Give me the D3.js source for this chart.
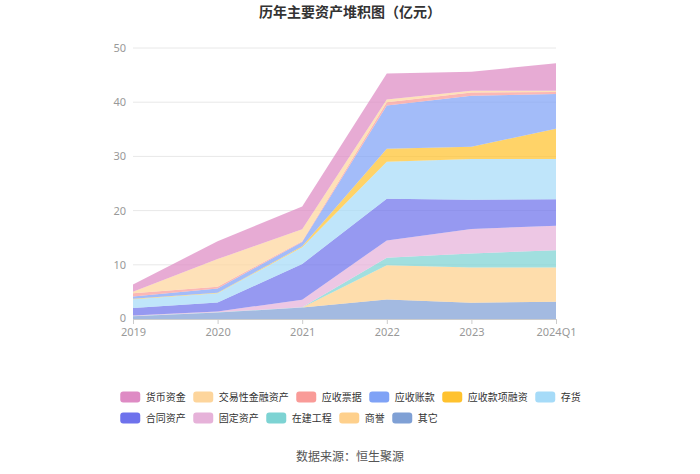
<!DOCTYPE html>
<html><head><meta charset="utf-8">
<script src="https://cdn.jsdelivr.net/npm/d3@7/dist/d3.min.js"></script>
<style>body{margin:0;background:#fff;}svg{display:block;font-family:"Noto Sans CJK SC","Noto Sans",sans-serif;}</style>
</head><body>
<svg id="c" width="700" height="474"></svg>
<script>
const years = ['2019','2020','2021','2022','2023','2024Q1'];
const seriesNames = ['货币资金','交易性金融资产','应收票据','应收账款','应收款项融资','存货','合同资产','固定资产','在建工程','商誉','其它'];
const cash        = [1.3, 3.3, 4.2, 4.8, 3.5, 5.1];
const tradingFin  = [0.3, 5.1, 2.2, 0.5, 0.3, 0.2];
const notesRec    = [0.6, 0.3, 0.15, 0.6, 0.6, 0.4];
const accountsRec = [0.4, 0.8, 0.8, 8.0, 9.4, 6.4];
const recFinancing= [0.1, 0.1, 0.15, 2.4, 2.3, 5.6];
const inventory   = [1.6, 1.7, 3.1, 6.8, 7.5, 7.4];
const contractAst = [1.4, 1.65, 6.6, 7.7, 5.4, 4.9];
const fixedAst    = [0.1, 0.15, 1.4, 3.2, 4.5, 4.5];
const construction= [0.05, 0.05, 0.05, 1.4, 2.6, 3.2];
const goodwill    = [0, 0, 0, 6.3, 6.5, 6.3];
const others      = [0.5, 1.2, 2.1, 3.6, 3.0, 3.2];
const yTicks = [0, 10, 20, 30, 40, 50];
const colors = ['#de8bc4','#fdd59c','#f99b98','#7fa2f6','#ffc22e','#a6dbf8','#6e72ec','#e6b2d9','#7dd3d3','#fed08c','#7fa0d5'];

const values = [cash,tradingFin,notesRec,accountsRec,recFinancing,inventory,contractAst,fixedAst,construction,goodwill,others];
const table = years.map((y,i)=>{const o={year:y}; seriesNames.forEach((n,k)=>o[n]=values[k][i]); return o;});

const svg = d3.select('#c');
const L=133,R=556,T=48,B=319;
const x = d3.scalePoint().domain(years).range([L,R]);
const y = d3.scaleLinear().domain([0,50]).range([B,T]);

// title
svg.append('text').attr('x',350).attr('y',17).attr('text-anchor','middle').attr('font-size',14).attr('font-weight','bold').attr('fill','#333').text('历年主要资产堆积图（亿元）');

// grid
svg.append('g').selectAll('line').data(yTicks.filter(d=>d>0)).join('line')
  .attr('x1',L).attr('x2',R).attr('y1',d=>y(d)).attr('y2',d=>y(d)).attr('stroke','#e8e8e8').attr('stroke-width',1);

// stack: bottom = last series
const stack = d3.stack().keys(seriesNames.slice().reverse());
const layers = stack(table);
const area = d3.area().x(d=>x(d.data.year)).y0(d=>y(d[0])).y1(d=>y(d[1]));
svg.append('g').selectAll('path').data(layers).join('path')
  .attr('d',area).attr('fill',d=>colors[seriesNames.indexOf(d.key)]).attr('fill-opacity',0.72).attr('stroke','none');

// y axis labels
const yAxis = d3.axisLeft(y).tickValues(yTicks).tickSize(0).tickPadding(7);
const gy = svg.append('g').attr('transform',`translate(${L},0)`).call(yAxis);
gy.select('.domain').remove();
gy.selectAll('text').attr('fill','#999').attr('font-size',11).attr('font-family','"Noto Sans","DejaVu Sans",sans-serif');
gy.selectAll('.tick').filter(d=>d===0).select('text').attr('dy','0.2em');

// x axis
const xAxis = d3.axisBottom(x).tickSize(5).tickPadding(4);
const gx = svg.append('g').attr('transform',`translate(0,${B})`).call(xAxis);
gx.select('.domain').attr('stroke','#ccc').attr('d',`M${L},0.5H${R}`);
gx.selectAll('line').attr('stroke','#ccc');
gx.selectAll('text').attr('fill','#999').attr('font-size',11).attr('font-family','"Noto Sans","DejaVu Sans",sans-serif');

// legend
const lg = svg.append('g');
const fs=10, sw=20, sh=11, maxW=470;
const items=[]; let cx=0, row=0;
seriesNames.forEach((n,i)=>{
  const w = sw+5.5+n.length*fs;
  if(cx>0 && cx+w>maxW){cx=0;row++;}
  items.push({n,i,x:cx,row});
  cx += w+7.5;
});
const rowW = d3.max(d3.range(row+1),r=>{const it=items.filter(d=>d.row===r);const l=it[it.length-1];return l.x+sw+5.5+l.n.length*fs;});
const lx0 = (700-rowW)/2+0.5;
items.forEach(it=>{
  const cy = 397 + it.row*21;
  lg.append('rect').attr('x',lx0+it.x).attr('y',cy-sh/2).attr('width',sw).attr('height',sh).attr('rx',3).attr('fill',colors[it.i]);
  lg.append('text').attr('x',lx0+it.x+sw+5.5).attr('y',cy).attr('dy','0.35em').attr('font-size',fs).attr('fill','#333').text(it.n);
});

// footer
svg.append('text').attr('x',350).attr('y',461).attr('text-anchor','middle').attr('font-size',12).attr('fill','#555').text('数据来源：恒生聚源');
</script>
</body></html>
